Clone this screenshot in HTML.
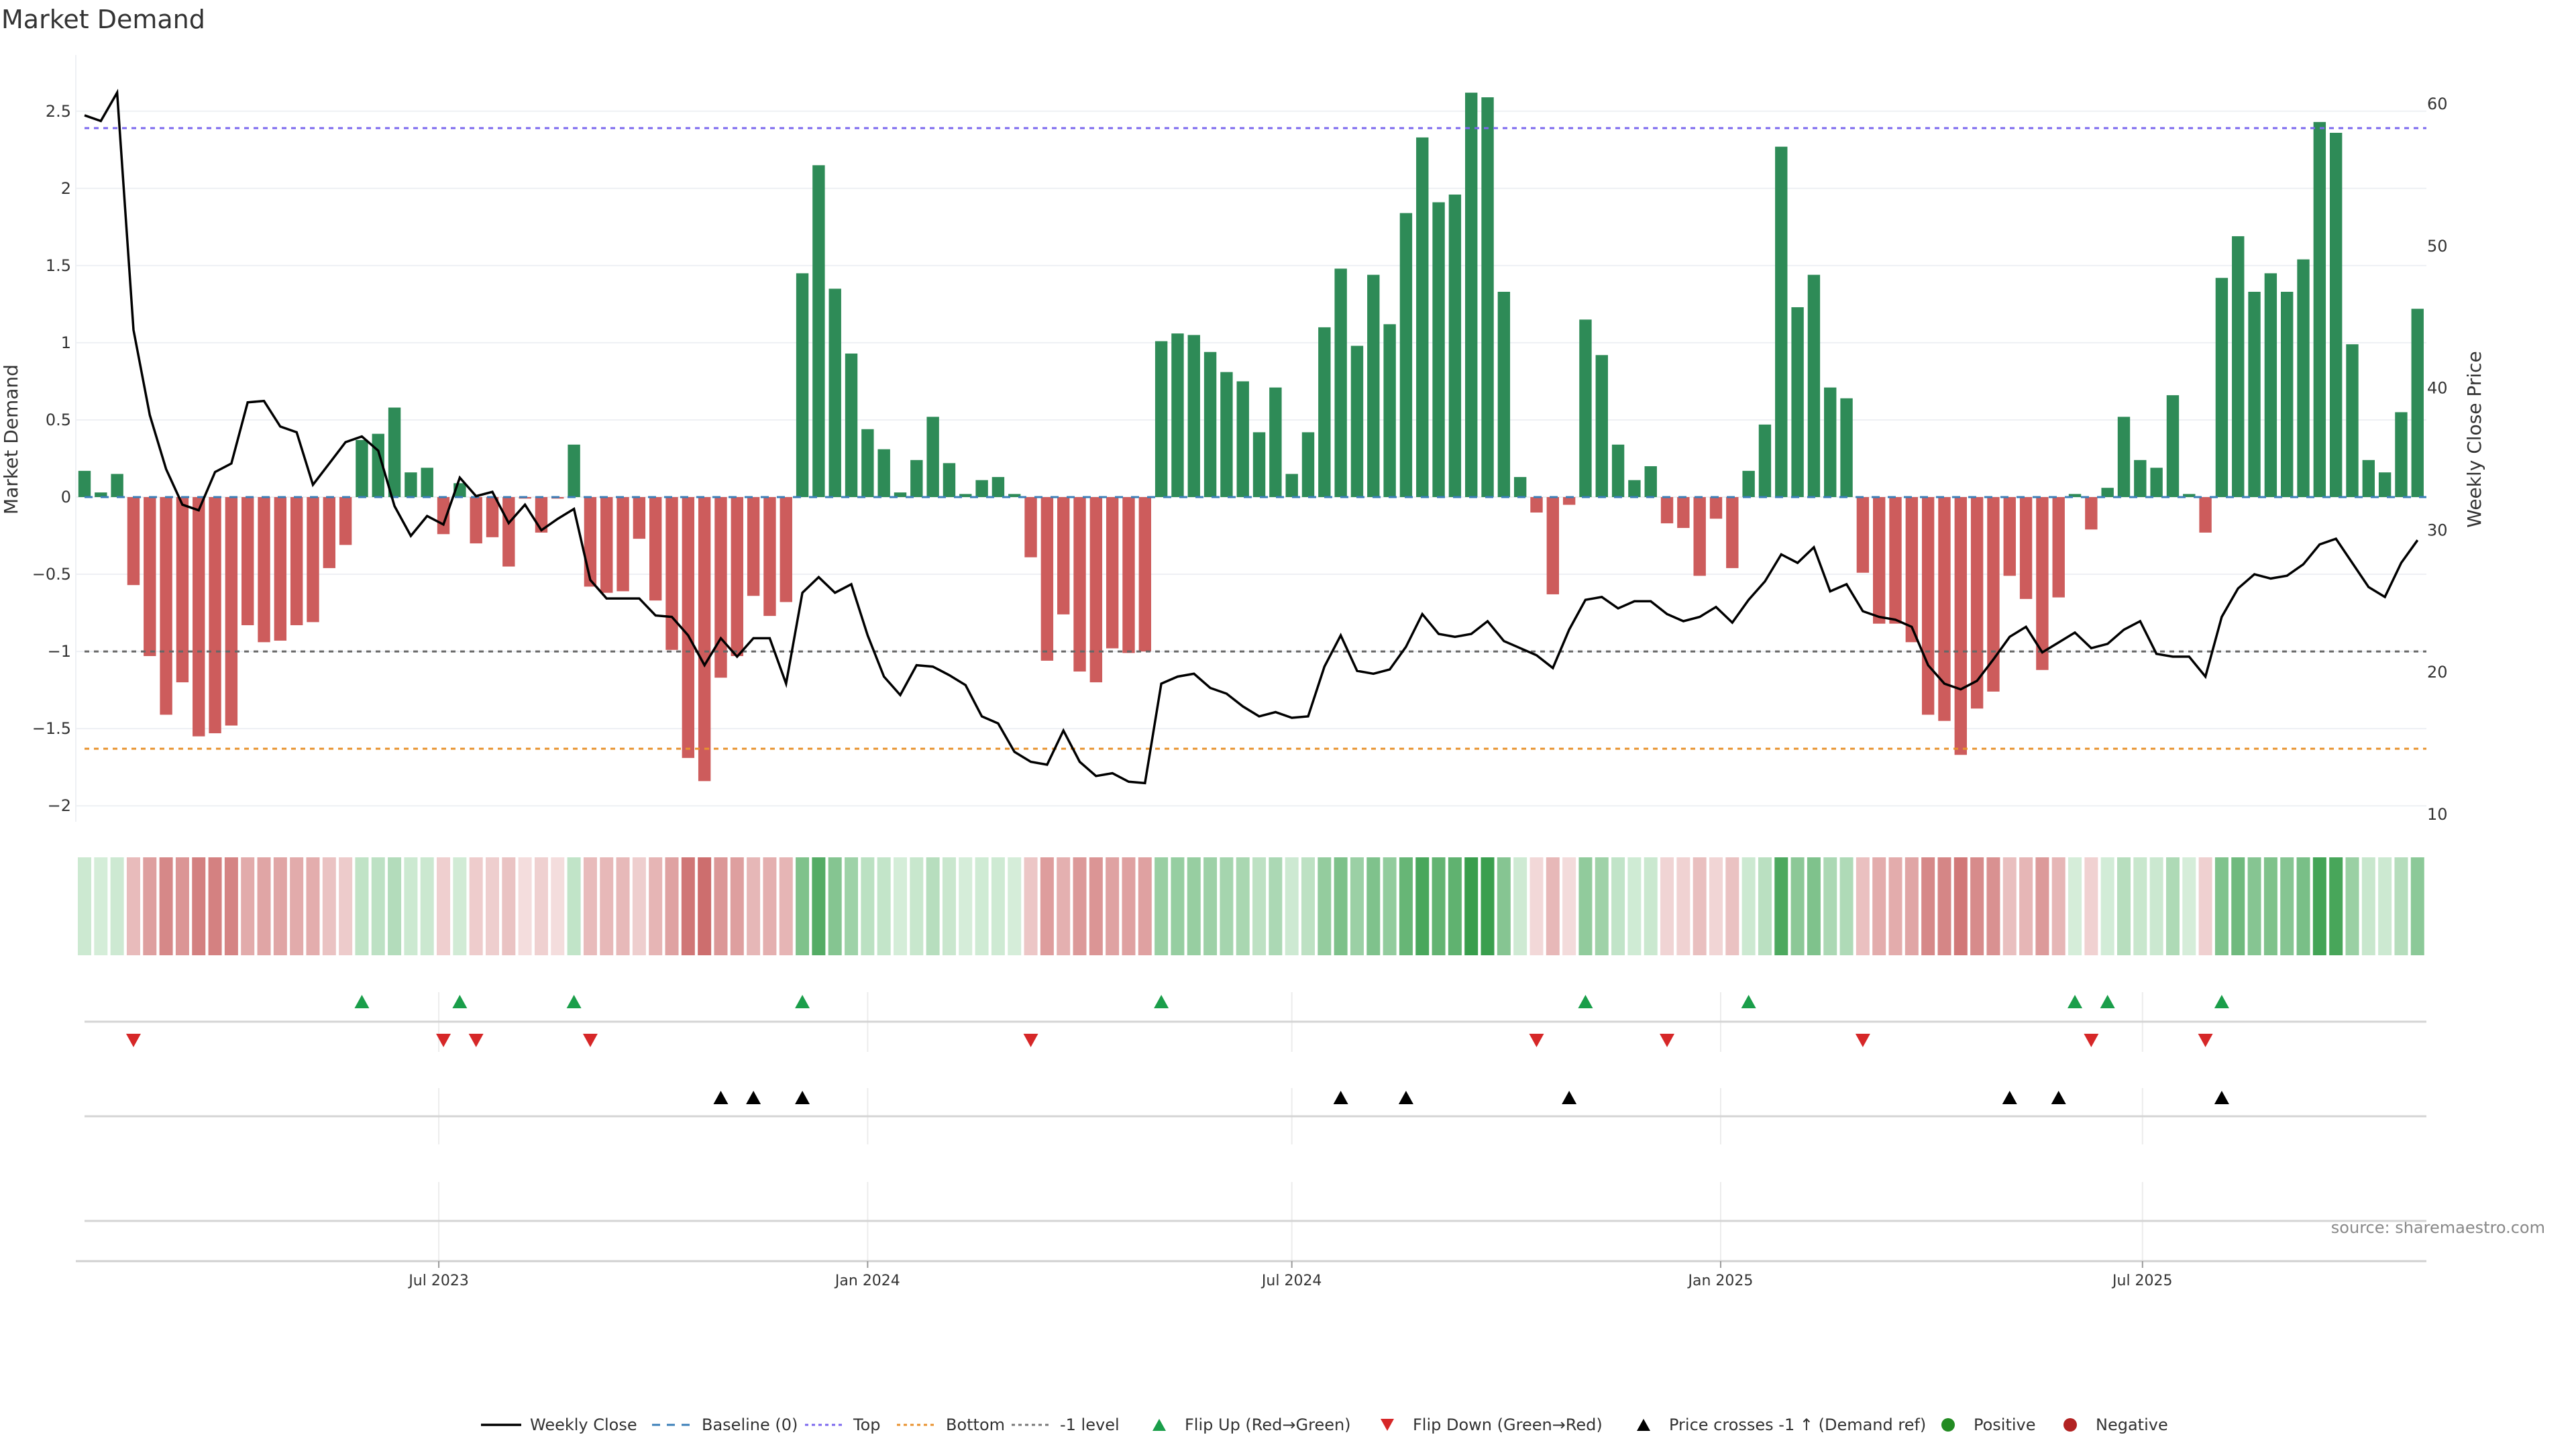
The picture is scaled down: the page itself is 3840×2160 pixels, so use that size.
<!DOCTYPE html>
<html><head><meta charset="utf-8"><style>
html,body{margin:0;padding:0;background:#fff;}
svg{display:block;font-family:"DejaVu Sans","Liberation Sans",sans-serif;}
</style></head><body>
<svg id="chart" width="3840" height="2160" viewBox="0 0 3840 2160" xmlns="http://www.w3.org/2000/svg">
<text x="2" y="42" font-size="38" fill="#333">Market Demand</text>
<text transform="translate(26,655) rotate(-90)" text-anchor="middle" font-size="28" fill="#333">Market Demand</text>
<text transform="translate(3698,655) rotate(-90)" text-anchor="middle" font-size="28" fill="#333">Weekly Close Price</text>
<text x="3794" y="1838" text-anchor="end" font-size="24" fill="#888">source: sharemaestro.com</text>
<g id="grid"></g><g id="bars"></g><g id="lines"></g><g id="heat"></g><g id="events"></g><g id="xaxis"></g><g id="legend"></g>
</svg>
<script>
const demand=[0.17,0.03,0.15,-0.57,-1.03,-1.41,-1.2,-1.55,-1.53,-1.48,-0.83,-0.94,-0.93,-0.83,-0.81,-0.46,-0.31,0.37,0.41,0.58,0.16,0.19,-0.24,0.09,-0.3,-0.26,-0.45,-0.01,-0.23,-0.01,0.34,-0.58,-0.62,-0.61,-0.27,-0.67,-0.99,-1.69,-1.84,-1.17,-1.03,-0.64,-0.77,-0.68,1.45,2.15,1.35,0.93,0.44,0.31,0.03,0.24,0.52,0.22,0.02,0.11,0.13,0.02,-0.39,-1.06,-0.76,-1.13,-1.2,-0.98,-1.01,-1.0,1.01,1.06,1.05,0.94,0.81,0.75,0.42,0.71,0.15,0.42,1.1,1.48,0.98,1.44,1.12,1.84,2.33,1.91,1.96,2.62,2.59,1.33,0.13,-0.1,-0.63,-0.05,1.15,0.92,0.34,0.11,0.2,-0.17,-0.2,-0.51,-0.14,-0.46,0.17,0.47,2.27,1.23,1.44,0.71,0.64,-0.49,-0.82,-0.82,-0.94,-1.41,-1.45,-1.67,-1.37,-1.26,-0.51,-0.66,-1.12,-0.65,0.02,-0.21,0.06,0.52,0.24,0.19,0.66,0.02,-0.23,1.42,1.69,1.33,1.45,1.33,1.54,2.43,2.36,0.99,0.24,0.16,0.55,1.22];
const price=[59.2,58.8,60.8,44.1,38.1,34.3,31.8,31.4,34.1,34.7,39.0,39.1,37.3,36.9,33.2,34.7,36.2,36.6,35.6,31.7,29.6,31.0,30.4,33.7,32.4,32.7,30.5,31.8,30.0,30.8,31.5,26.5,25.2,25.2,25.2,24.0,23.9,22.6,20.5,22.4,21.1,22.4,22.4,19.2,25.6,26.7,25.6,26.2,22.6,19.7,18.4,20.5,20.4,19.8,19.1,16.9,16.4,14.4,13.7,13.5,15.9,13.7,12.7,12.9,12.3,12.2,19.2,19.7,19.9,18.9,18.5,17.6,16.9,17.2,16.8,16.9,20.4,22.6,20.1,19.9,20.2,21.8,24.1,22.7,22.5,22.7,23.6,22.2,21.7,21.2,20.3,23.0,25.1,25.3,24.5,25.0,25.0,24.1,23.6,23.9,24.6,23.5,25.1,26.4,28.3,27.7,28.8,25.7,26.2,24.3,23.9,23.7,23.2,20.5,19.2,18.8,19.4,20.9,22.5,23.2,21.4,22.1,22.8,21.7,22.0,23.0,23.6,21.3,21.1,21.1,19.7,23.9,25.9,26.9,26.6,26.8,27.6,29.0,29.4,27.7,26.0,25.3,27.7,29.3];
const topLevel=[2.39];
const bottomLevel=[-1.63];
const refLevel=[-1];
const leftTicks=[2.5,2,1.5,1,0.5,0,-0.5,-1,-1.5,-2];
const leftTickLabels=["2.5","2","1.5","1","0.5","0","−0.5","−1","−1.5","−2"];
const rightTicks=[60,50,40,30,20,10];
const xTickDates=["2023-07-01","2024-01-01","2024-07-01","2025-01-01","2025-07-01"];
const xTickLabels=["Jul 2023","Jan 2024","Jul 2024","Jan 2025","Jul 2025"];
const startDate="2023-01-30";

const NS="http://www.w3.org/2000/svg";
function mk(parent,tag,attrs){const e=document.createElementNS(NS,tag);for(const k in attrs)e.setAttribute(k,attrs[k]);parent.appendChild(e);return e;}
const X0=126,STEP=24.32,PL=113,PR=3617;
const xB=i=>X0+i*STEP;
const yD=v=>741-230.1*v;
const yP=p=>155+(60-p)*21.18;
const xDate=d=>X0+((new Date(d)-new Date(startDate))/86400000)/7*STEP;
const G=id=>document.getElementById(id);

const grid=G('grid');
let ln=mk(grid,'line',{x1:PL,x2:PL,y1:82,y2:1225,stroke:'#eef0f4','stroke-width':2});

leftTicks.forEach((v,k)=>{
  let g=mk(grid,'line',{x1:PL,x2:PR,y1:yD(v),y2:yD(v),stroke:'#eef0f4','stroke-width':2});
  
  let t=mk(grid,'text',{x:106,y:yD(v)+8,'text-anchor':'end','font-size':24,fill:'#333'});
  t.textContent=leftTickLabels[k];
  
});
rightTicks.forEach(p=>{
  let t=mk(grid,'text',{x:3618,y:yP(p)+8,'font-size':24,fill:'#333'});
  t.textContent=String(p);
  
});

const bars=G('bars');
demand.forEach((v,i)=>{
  const y0=yD(0),y1=yD(v);
  let r=mk(bars,'rect',{x:xB(i)-9.2,y:Math.min(y0,y1),width:18.4,height:Math.max(Math.abs(y1-y0),1),fill:v>0?'#2e8b57':'#cd5c5c'});
  
});

const lines=G('lines');
function hline(y,col,dash,name){let l=mk(lines,'line',{x1:X0,x2:PR,y1:y,y2:y,stroke:col,'stroke-width':3,'stroke-dasharray':dash});
  }
hline(yD(0),'#3b7fb8','12,12','baseline-zero');
hline(yD(topLevel[0]),'#7b68ee','7,7','top-level-line');
hline(yD(bottomLevel[0]),'#e8922e','7,7','bottom-level-line');
hline(yD(refLevel[0]),'#666','7,7','minus-one-level-line');
let pts=price.map((p,i)=>xB(i).toFixed(1)+','+yP(p).toFixed(1)).join(' ');
let pl=mk(lines,'polyline',{points:pts,fill:'none',stroke:'#000','stroke-width':3.5,'stroke-linejoin':'miter'});


const heat=G('heat');
const maxPos=Math.max(...demand),maxNeg=Math.max(...demand.map(v=>-v));
demand.forEach((v,i)=>{
  let c;
  if(v>0){const t=Math.min(v/maxPos,1);c=`rgb(${Math.round(214-158*t)},${Math.round(238-80*t)},${Math.round(218-142*t)})`;}
  else{const t=Math.min(-v/maxNeg,1);c=`rgb(${Math.round(244-39*t)},${Math.round(222-112*t)},${Math.round(222-112*t)})`;}
  let r=mk(heat,'rect',{x:xB(i)-10,y:1278,width:20,height:146,fill:c});
  
});

const ev=G('events');
[[1479,1568],[1622,1706],[1762,1880]].forEach(s=>{
  xTickDates.forEach(d=>{let l=mk(ev,'line',{x1:xDate(d),x2:xDate(d),y1:s[0],y2:s[1],stroke:'#ececec','stroke-width':2});
    });
});
[1523,1664,1820].forEach(y=>{let l=mk(ev,'line',{x1:X0,x2:PR,y1:y,y2:y,stroke:'#d4d4d4','stroke-width':3});
  });
function tri(x,y,up,col,name){
  const p=up?`${x-11},${y+10} ${x+11},${y+10} ${x},${y-10}`:`${x-11},${y-10} ${x+11},${y-10} ${x},${y+10}`;
  let t=mk(ev,'polygon',{points:p,fill:col});
  
}
const refPrice=60-(yD(refLevel[0])-155)/21.18;
for(let i=1;i<demand.length;i++){
  if(demand[i-1]<=0&&demand[i]>0)tri(xB(i),1493,true,'#1a9e4a','flip-up-marker');
  if(demand[i-1]>0&&demand[i]<=0)tri(xB(i),1551,false,'#d62728','flip-down-marker');
  if(price[i-1]<refPrice&&price[i]>=refPrice)tri(xB(i),1636,true,'#000','price-cross-marker');
}

const xa=G('xaxis');
let ax=mk(xa,'line',{x1:PL,x2:PR,y1:1880,y2:1880,stroke:'#d0d0d0','stroke-width':3});

xTickDates.forEach((d,k)=>{
  const x=xDate(d);
  let tk=mk(xa,'line',{x1:x,x2:x,y1:1880,y2:1890,stroke:'#999','stroke-width':2});
  
  let t=mk(xa,'text',{x:x,y:1916,'text-anchor':'middle','font-size':22,fill:'#333'});
  t.textContent=xTickLabels[k];
  
});

const lg=G('legend');const LY=2124;
function ltext(x,s){let t=mk(lg,'text',{x:x,y:LY+8,'font-size':24,fill:'#333'});t.textContent=s;
  }
function lline(x,col,dash,w){let l=mk(lg,'line',{x1:x,x2:x+60,y1:LY,y2:LY,stroke:col,'stroke-width':w,'stroke-dasharray':dash});
  }
lline(717,'#000','none',3.5);ltext(790,'Weekly Close');
lline(972,'#3b7fb8','12,10',3);ltext(1046,'Baseline (0)');
lline(1200,'#7b68ee','5,5',3);ltext(1272,'Top');
lline(1337,'#e8922e','5,5',3);ltext(1410,'Bottom');
lline(1508,'#777','5,5',3);ltext(1580,'-1 level');
function ltri(x,up,col){const y=LY;const p=up?`${x-10},${y+9} ${x+10},${y+9} ${x},${y-9}`:`${x-10},${y-9} ${x+10},${y-9} ${x},${y+9}`;
  let t=mk(lg,'polygon',{points:p,fill:col});}
ltri(1728,true,'#1a9e4a');ltext(1766,'Flip Up (Red→Green)');
ltri(2068,false,'#d62728');ltext(2106,'Flip Down (Green→Red)');
ltri(2450,true,'#000');ltext(2488,'Price crosses -1 ↑ (Demand ref)');
let c1=mk(lg,'circle',{cx:2904,cy:LY,r:10,fill:'#228b22'});
ltext(2942,'Positive');
let c2=mk(lg,'circle',{cx:3086,cy:LY,r:10,fill:'#b22222'});
ltext(3124,'Negative');
</script>
</body></html>
